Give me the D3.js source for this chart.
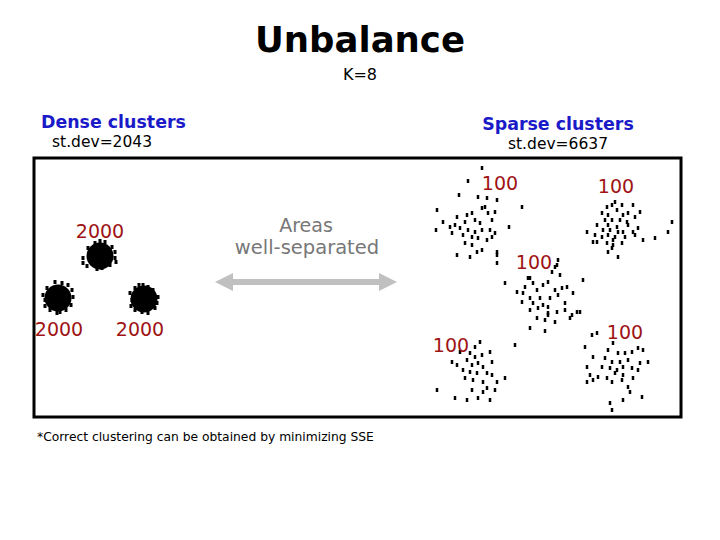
<!DOCTYPE html>
<html>
<head>
<meta charset="utf-8">
<script src="https://cdn.jsdelivr.net/npm/d3@7"></script>
<style>
  body { margin: 0; background: #fff; }
  svg { display: block; }
</style>
</head>
<body>
<svg width="720" height="540"></svg>
<script>
// plot units
const plotX = [34, 681];
const plotY = [158, 417];

const denseCenters = [[100, 256], [58, 298], [144, 299]];
const denseLabels = ["2000", "2000", "2000"];
const denseLabelPos = [[100, 231], [59, 329], [140, 329]];
const denseFringe = [
  [83, 258], [83, 263], [115, 252], [115, 258], [105, 242], [95, 243], [97, 269], [102, 268],
  [88, 248], [112, 247], [87, 266], [110, 265], [100, 241], [116, 262],
  [43, 295], [45, 300], [55, 282], [62, 283], [72, 290], [73, 297], [60, 312], [50, 310],
  [47, 288], [68, 285], [71, 305], [45, 306], [57, 313], [66, 310],
  [130, 293], [132, 300], [143, 285], [148, 287], [158, 297], [157, 303], [142, 312], [135, 310],
  [135, 288], [153, 290], [155, 308], [131, 306], [148, 313], [139, 285]
];

const sparseLabels = ["100", "100", "100", "100", "100"];
const sparseLabelPos = [[500, 183], [616, 186], [534, 262], [451, 345], [625, 332]];

const sparseA = [
  [482, 168], [468, 181], [459, 195], [478, 197], [487, 198], [497, 200], [437, 210], [522, 207],
  [485, 207], [482, 208], [488, 213], [472, 213], [467, 215], [457, 217], [495, 212], [443, 222],
  [465, 222], [475, 220], [480, 223], [492, 220], [450, 227], [455, 225], [460, 228], [468, 230],
  [475, 232], [482, 230], [490, 230], [495, 233], [436, 230], [452, 233], [463, 235], [472, 237],
  [478, 238], [487, 240], [492, 237], [509, 227], [465, 243], [472, 245], [457, 255], [470, 257],
  [477, 252], [482, 250], [497, 252], [497, 263]
];
const sparseB = [
  [615, 202], [607, 207], [612, 205], [622, 205], [633, 205], [617, 210], [602, 213], [608, 215],
  [623, 215], [628, 213], [640, 212], [605, 220], [612, 220], [620, 220], [627, 222], [635, 217],
  [608, 225], [617, 227], [628, 225], [597, 225], [672, 222], [603, 230], [610, 230], [618, 232],
  [623, 232], [633, 232], [638, 228], [587, 232], [595, 235], [602, 237], [608, 235], [615, 237],
  [625, 237], [635, 235], [643, 240], [655, 238], [668, 232], [593, 242], [607, 243], [613, 245],
  [622, 243], [612, 248], [608, 252], [618, 257], [613, 240]
];
const sparseC = [
  [597, 242], [497, 255], [558, 260], [557, 265], [552, 272], [560, 275], [555, 267], [530, 278],
  [505, 283], [528, 278], [533, 283], [543, 285], [525, 287], [548, 282], [583, 280], [517, 292],
  [523, 293], [537, 290], [555, 290], [562, 288], [567, 287], [573, 293], [530, 298], [540, 298],
  [550, 298], [558, 295], [522, 302], [533, 303], [543, 305], [548, 307], [565, 303], [530, 310],
  [538, 308], [548, 313], [557, 312], [565, 310], [580, 312], [537, 318], [545, 320], [555, 322],
  [570, 318], [530, 328], [545, 331], [548, 315], [597, 333]
];
const sparseD = [
  [475, 347], [480, 342], [460, 352], [470, 353], [475, 357], [482, 355], [490, 352], [452, 362],
  [457, 365], [467, 360], [472, 365], [478, 363], [483, 367], [492, 362], [515, 345], [463, 370],
  [470, 372], [477, 373], [487, 373], [492, 375], [465, 378], [473, 380], [483, 382], [497, 382],
  [505, 378], [437, 390], [472, 390], [487, 388], [495, 390], [455, 398], [467, 400], [478, 398],
  [490, 400], [483, 392]
];
const sparseE = [
  [572, 315], [577, 312], [592, 335], [613, 343], [585, 347], [608, 350], [618, 353], [625, 353],
  [632, 352], [638, 348], [643, 350], [593, 357], [605, 358], [612, 362], [620, 362], [628, 360],
  [640, 363], [648, 362], [587, 367], [602, 367], [610, 368], [617, 370], [623, 367], [632, 368],
  [638, 370], [590, 375], [598, 377], [607, 378], [615, 373], [623, 375], [633, 378], [587, 382],
  [593, 380], [612, 382], [622, 380], [628, 387], [630, 392], [642, 397], [610, 403], [612, 410],
  [623, 400]
];
const sparseClusters = [sparseA, sparseB, sparseC, sparseD, sparseE];

const svg = d3.select("svg");
const fontMain = "DejaVu Sans, Verdana, sans-serif";

const x = d3.scaleLinear().domain(plotX).range([34, 681]);
const y = d3.scaleLinear().domain(plotY).range([158, 417]);

// headings
svg.append("text")
    .attr("x", 360).attr("y", 52)
    .attr("text-anchor", "middle")
    .attr("font-family", fontMain)
    .attr("font-weight", "bold")
    .attr("font-size", 35.5)
    .text("Unbalance");

svg.append("text")
    .attr("x", 360).attr("y", 80)
    .attr("text-anchor", "middle")
    .attr("font-family", fontMain)
    .attr("font-size", 16)
    .text("K=8");

svg.append("text")
    .attr("x", 41).attr("y", 128)
    .attr("font-family", fontMain)
    .attr("font-weight", "bold")
    .attr("font-size", 17.4)
    .attr("fill", "#1a1ac8")
    .text("Dense clusters");

svg.append("text")
    .attr("x", 52).attr("y", 147)
    .attr("font-family", fontMain)
    .attr("font-size", 15.5)
    .text("st.dev=2043");

svg.append("text")
    .attr("x", 558).attr("y", 130)
    .attr("text-anchor", "middle")
    .attr("font-family", fontMain)
    .attr("font-weight", "bold")
    .attr("font-size", 17.4)
    .attr("fill", "#1a1ac8")
    .text("Sparse clusters");

svg.append("text")
    .attr("x", 558).attr("y", 149)
    .attr("text-anchor", "middle")
    .attr("font-family", fontMain)
    .attr("font-size", 15.5)
    .text("st.dev=6637");

// frame
svg.append("rect")
    .attr("x", x(plotX[0])).attr("y", y(plotY[0]))
    .attr("width", x(plotX[1]) - x(plotX[0]))
    .attr("height", y(plotY[1]) - y(plotY[0]))
    .attr("fill", "none")
    .attr("stroke", "#000")
    .attr("stroke-width", 3);

// dense clusters
const dense = svg.append("g");
dense.selectAll("circle")
  .data(denseCenters)
  .join("circle")
    .attr("cx", d => x(d[0]))
    .attr("cy", d => y(d[1]))
    .attr("r", 13.5)
    .attr("fill", "#000");

dense.selectAll("rect")
  .data(denseFringe)
  .join("rect")
    .attr("x", d => x(d[0]) - 1.5)
    .attr("y", d => y(d[1]) - 2)
    .attr("width", 3)
    .attr("height", 4)
    .attr("fill", "#000");

// sparse clusters
const sparse = svg.append("g");
sparse.selectAll("g")
  .data(sparseClusters)
  .join("g")
  .selectAll("rect")
  .data(d => d)
  .join("rect")
    .attr("x", d => x(d[0]) - 1.25)
    .attr("y", d => y(d[1]) - 2)
    .attr("width", 2.5)
    .attr("height", 4)
    .attr("fill", "#000");

// cluster sizes
svg.append("g").selectAll("text")
  .data(denseLabelPos.map((p, i) => ({ p, t: denseLabels[i] }))
    .concat(sparseLabelPos.map((p, i) => ({ p, t: sparseLabels[i] }))))
  .join("text")
    .attr("x", d => x(d.p[0]))
    .attr("y", d => y(d.p[1]) + 7)
    .attr("text-anchor", "middle")
    .attr("font-family", fontMain)
    .attr("font-size", 19)
    .attr("fill", "#9e1414")
    .text(d => d.t);

// arrow between the two groups
const ax0 = 215, ax1 = 397, ay = 282;
const arrow = svg.append("g").attr("fill", "#c0c0c0");
arrow.append("rect")
    .attr("x", ax0 + 15).attr("y", ay - 3)
    .attr("width", ax1 - ax0 - 30).attr("height", 6);
arrow.append("path")
    .attr("d", `M${ax0},${ay} L${ax0 + 18},${ay - 9} L${ax0 + 18},${ay + 9} Z`);
arrow.append("path")
    .attr("d", `M${ax1},${ay} L${ax1 - 18},${ay - 9} L${ax1 - 18},${ay + 9} Z`);

svg.append("text")
    .attr("x", 306).attr("y", 232)
    .attr("text-anchor", "middle")
    .attr("font-family", fontMain)
    .attr("font-size", 19)
    .attr("fill", "#777")
    .text("Areas");
svg.append("text")
    .attr("x", 307).attr("y", 254)
    .attr("text-anchor", "middle")
    .attr("font-family", fontMain)
    .attr("font-size", 19.5)
    .attr("fill", "#777")
    .text("well-separated");

svg.append("text")
    .attr("x", 37).attr("y", 441)
    .attr("font-family", fontMain)
    .attr("font-size", 12.3)
    .text("*Correct clustering can be obtained by minimizing SSE");
</script>
</body>
</html>
